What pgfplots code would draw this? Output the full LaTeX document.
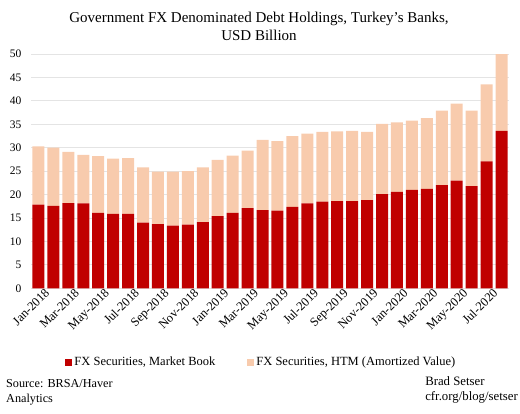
\documentclass[border=0pt]{standalone}
\usepackage{pgfplots}
\pgfplotsset{compat=1.18}
\usepackage{pgfplotstable}
\usepackage{fontspec}
\setmainfont{Liberation Serif}
\definecolor{redbar}{HTML}{C00000}
\definecolor{peach}{HTML}{F8CBAD}
\definecolor{gridc}{HTML}{E4E4E4}
\pgfplotstableread{
x red htm
0 17.85 12.45
1 17.6 12.4
2 18.2 10.9
3 18.1 10.35
4 16.1 12.1
5 15.9 11.8
6 15.9 11.9
7 14.0 11.8
8 13.7 11.2
9 13.4 11.5
10 13.6 11.4
11 14.1 11.7
12 15.4 12.0
13 16.1 12.2
14 17.1 12.3
15 16.7 15.0
16 16.6 14.8
17 17.4 15.1
18 18.1 14.9
19 18.5 14.9
20 18.6 14.9
21 18.6 15.0
22 18.8 14.6
23 20.1 15.0
24 20.6 14.8
25 21.0 14.8
26 21.2 15.1
27 22.0 15.9
28 23.0 16.4
29 21.8 16.1
30 27.1 16.4
31 33.6 16.4
}\datatable
\begin{document}
\begin{tikzpicture}[x=1bp,y=1bp]
\path[use as bounding box] (0,0) rectangle (520,413);
\node[align=center, font=\fontsize{15bp}{18bp}\selectfont] at (259,387) {Government FX Denominated Debt Holdings, Turkey's Banks,\\USD Billion};
\begin{axis}[
  at={(31bp,124.7bp)}, anchor=south west,
  scale only axis, width=478bp, height=234.3bp,
  ybar stacked, bar width=12bp,
  xmin=-0.5, xmax=31.5, ymin=0, ymax=50,
  ytick={0,5,...,50},
  xtick={0,2,...,30},
  xticklabels={Jan-2018,Mar-2018,May-2018,Jul-2018,Sep-2018,Nov-2018,Jan-2019,Mar-2019,May-2019,Jul-2019,Sep-2019,Nov-2019,Jan-2020,Mar-2020,May-2020,Jul-2020},
  xticklabel style={rotate=45, anchor=north east, font=\fontsize{12.5bp}{14bp}\selectfont, inner sep=0.5bp, xshift=5bp, yshift=-3bp},
  yticklabel style={font=\fontsize{11.5bp}{13bp}\selectfont, xshift=-6bp},
  /pgf/number format/assume math mode=true,
  axis line style={draw=none},
  major tick length=0pt,
  ymajorgrids, grid style={gridc, line width=0.8bp},
  legend columns=2,
  legend style={at={(0.482,-0.315)}, anchor=center, draw=none, fill=none,
    font=\fontsize{12.5bp}{14bp}\selectfont,
    /tikz/every even column/.append style={column sep=30bp}},
  legend image code/.code={\fill[#1] (0bp,-3.5bp) rectangle (7bp,3.5bp);},
]
\addplot[fill=redbar, draw=none] table[x=x, y=red] {\datatable};
\addlegendentry{FX Securities, Market Book}
\addplot[fill=peach, draw=none] table[x=x, y=htm] {\datatable};
\addlegendentry{FX Securities, HTM (Amortized Value)}
\end{axis}
\node[anchor=north west, align=left, font=\fontsize{12.2bp}{15.5bp}\selectfont, inner sep=0pt] at (6,34) {Source: BRSA/Haver\\Analytics};
\node[anchor=north east, align=left, font=\fontsize{12.8bp}{15bp}\selectfont, inner sep=0pt] at (518,37) {Brad Setser\\cfr.org/blog/setser};
\end{tikzpicture}
\end{document}
